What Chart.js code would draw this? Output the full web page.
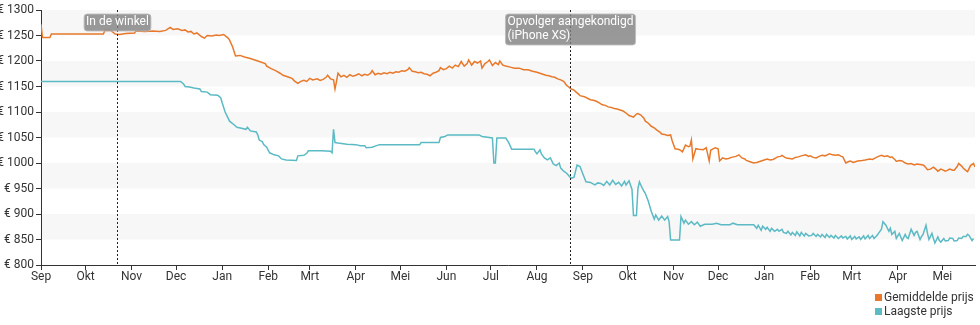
<!DOCTYPE html>
<html>
<head>
<meta charset="utf-8">
<script src="https://cdn.jsdelivr.net/npm/chart.js@4"></script>
<style>
  html, body { margin: 0; padding: 0; background: #fff; }
  #wrap { position: relative; width: 980px; height: 325px; }
  #legend { position: absolute; left: 875px; top: 290px; font: 12px Roboto, sans-serif; color: #333; line-height: 14px; }
  #legend span.sw { display: inline-block; width: 7px; height: 7px; margin-right: 2px; vertical-align: 0px; }
</style>
</head>
<body>
<div id="wrap">
  <canvas id="priceChart" width="980" height="325"></canvas>
  <div id="legend">
    <div><span class="sw" style="background:#e8792b"></span>Gemiddelde prijs</div>
    <div><span class="sw" style="background:#5bbac4"></span>Laagste prijs</div>
  </div>
</div>
<script>
// x = days since 1 September
const monthDays = [0, 30, 61, 91, 122, 153, 181, 212, 242, 273, 303, 334, 365, 395, 426, 456, 487, 518, 546, 577, 607];
const monthLabels = ['Sep', 'Okt', 'Nov', 'Dec', 'Jan', 'Feb', 'Mrt', 'Apr', 'Mei', 'Jun', 'Jul', 'Aug',
                     'Sep', 'Okt', 'Nov', 'Dec', 'Jan', 'Feb', 'Mrt', 'Apr', 'Mei'];

const eventDays = [51, 356];
const eventLabels = [['In de winkel'], ['Opvolger aangekondigd', '(iPhone XS)']];

const avgDays = [
  0, 1, 6, 7, 42, 43, 47, 50, 53, 57,
  63, 64, 70, 75, 80, 84, 87, 89, 92, 95,
  97, 99, 101, 103, 105, 108, 110, 112, 115, 118,
  120, 123, 126, 127, 129, 131, 134, 137, 141, 146,
  151, 152, 155, 158, 161, 163, 165, 167, 169, 170,
  171, 173, 175, 177, 179, 181, 183, 186, 188, 190,
  192, 193, 195, 197, 198, 199, 200, 202, 204, 206,
  208, 210, 212, 214, 216, 218, 220, 222, 223, 225,
  227, 229, 231, 233, 235, 237, 239, 241, 243, 245,
  247, 248, 250, 252, 254, 256, 258, 260, 262, 264,
  266, 268, 269, 271, 273, 275, 277, 279, 281, 283,
  285, 287, 288, 290, 292, 294, 296, 297, 299, 301,
  302, 304, 306, 308, 309, 311, 313, 316, 319, 322,
  325, 328, 331, 334, 336, 338, 340, 342, 344, 346,
  348, 350, 352, 354, 355, 357, 359, 360, 362, 363,
  366, 368, 370, 372, 374, 376, 378, 380, 382, 384,
  386, 388, 390, 392, 394, 396, 397, 399, 401, 402,
  404, 406, 407, 409, 411, 413, 415, 417, 418, 420,
  422, 424, 425, 427, 429, 430, 432, 434, 436, 437,
  438, 439, 441, 443, 446, 448, 450, 451, 454, 456,
  457, 459, 461, 463, 465, 468, 470, 472, 474, 475,
  477, 478, 480, 482, 484, 485, 487, 489, 491, 493,
  495, 496, 498, 499, 501, 502, 504, 506, 508, 510,
  512, 515, 517, 518, 520, 522, 524, 526, 528, 531,
  533, 535, 537, 539, 540, 542, 544, 545, 547, 548,
  550, 553, 555, 558, 560, 562, 564, 566, 568, 570,
  572, 573, 575, 576, 578, 580, 582, 584, 586, 588,
  590, 592, 594, 595, 597, 599, 601, 603, 604, 606,
  607, 609, 610, 612, 614, 615, 617, 618, 620, 621,
  623, 624, 626, 628, 629];
const avgPrices = [
  1272, 1246, 1246, 1253, 1253, 1260, 1260, 1253, 1252, 1254,
  1255, 1259, 1258, 1259, 1258, 1260, 1266, 1262, 1263, 1260,
  1261, 1257, 1258, 1253, 1255, 1248, 1245, 1250, 1249, 1251,
  1250, 1252, 1245, 1241, 1228, 1210, 1211, 1208, 1205, 1200,
  1195, 1190, 1185, 1181, 1176, 1172, 1170, 1168, 1166, 1163,
  1160, 1156, 1160, 1162, 1160, 1166, 1163, 1165, 1162, 1164,
  1168, 1172, 1165, 1163, 1145, 1160, 1176, 1169, 1172, 1168,
  1173, 1170, 1172, 1175, 1171, 1174, 1172, 1176, 1181, 1173,
  1176, 1174, 1177, 1175, 1178, 1176, 1179, 1178, 1181, 1180,
  1183, 1187, 1180, 1179, 1177, 1178, 1175, 1174, 1171, 1176,
  1178, 1181, 1187, 1183, 1185, 1190, 1186, 1192, 1189, 1199,
  1190, 1195, 1202, 1192, 1199, 1196, 1200, 1186, 1195, 1199,
  1202, 1191, 1197, 1193, 1200, 1192, 1190, 1188, 1186, 1186,
  1183, 1183, 1180, 1178, 1176, 1174, 1172, 1171, 1169, 1168,
  1165, 1163, 1160, 1152, 1150, 1145, 1143, 1140, 1135, 1132,
  1130, 1127, 1124, 1123, 1121, 1118, 1114, 1113, 1110, 1109,
  1107, 1106, 1104, 1102, 1098, 1093, 1092, 1090, 1096, 1097,
  1094, 1088, 1082, 1078, 1072, 1069, 1064, 1060, 1057, 1056,
  1054, 1055, 1044, 1028, 1027, 1026, 1022, 1035, 1032, 1033,
  1045, 1008, 1028, 1027, 1026, 1030, 1004, 1025, 1030, 1028,
  1004, 1010, 1008, 1009, 1011, 1013, 1016, 1010, 1008, 1005,
  1003, 1002, 1000, 1001, 1003, 1004, 1006, 1008, 1006, 1007,
  1010, 1012, 1013, 1015, 1011, 1010, 1009, 1008, 1011, 1012,
  1014, 1016, 1013, 1014, 1011, 1010, 1013, 1015, 1014, 1018,
  1016, 1015, 1016, 1013, 1012, 1000, 1003, 1004, 1001, 1002,
  1004, 1005, 1006, 1008, 1007, 1010, 1013, 1015, 1013, 1014,
  1011, 1012, 1007, 1003, 1005, 1004, 1000, 998, 999, 996,
  998, 997, 996, 994, 987, 988, 992, 987, 984, 988,
  987, 984, 985, 988, 986, 986, 993, 999, 994, 990,
  985, 983, 995, 999, 992];

const lowDays = [
  0, 94, 96, 97, 100, 103, 107, 108, 112, 114,
  119, 121, 122, 124, 126, 127, 130, 132, 135, 138,
  139, 141, 145, 146, 147, 149, 150, 152, 153, 154,
  157, 160, 162, 165, 172, 173, 177, 179, 180, 189,
  195, 196, 197, 198, 200, 206, 212, 215, 218, 219,
  223, 226, 228, 255, 256, 268, 269, 272, 274, 295,
  297, 304, 305, 306, 307, 313, 315, 317, 332, 333,
  334, 336, 337, 339, 341, 343, 345, 347, 349, 350,
  352, 354, 357, 359, 361, 363, 365, 367, 370, 373,
  375, 377, 379, 381, 383, 385, 387, 389, 391, 393,
  394, 396, 398, 399, 401, 402, 403, 405, 407, 409,
  411, 413, 414, 416, 418, 420, 422, 423, 424, 430,
  431, 433, 434, 436, 438, 440, 442, 444, 447, 452,
  455, 458, 464, 466, 469, 480, 482, 483, 485, 486,
  488, 489, 491, 492, 494, 496, 497, 499, 500, 502,
  503, 505, 506, 508, 509, 511, 512, 514, 515, 517,
  519, 520, 522, 523, 525, 526, 528, 529, 531, 532,
  534, 535, 537, 539, 540, 542, 543, 545, 546, 548,
  549, 551, 552, 554, 555, 557, 558, 560, 561, 563,
  564, 566, 567, 569, 571, 572, 573, 575, 576, 578,
  579, 580, 582, 583, 584, 586, 588, 589, 590, 592,
  593, 594, 596, 597, 598, 600, 601, 602, 604, 605,
  606, 608, 609, 611, 612, 614, 615, 617, 618, 620,
  621, 623, 624, 625, 627, 628];
const lowPrices = [
  1160, 1160, 1155, 1150, 1149, 1147, 1145, 1140, 1139, 1134,
  1133, 1128, 1118, 1100, 1088, 1082, 1075, 1070, 1068, 1066,
  1070, 1063, 1061, 1055, 1045, 1042, 1036, 1031, 1025, 1020,
  1016, 1014, 1008, 1006, 1005, 1014, 1015, 1019, 1024, 1024,
  1023, 1020, 1066, 1040, 1039, 1037, 1036, 1034, 1034, 1030,
  1031, 1034, 1036, 1036, 1040, 1040, 1050, 1052, 1055, 1055,
  1052, 1049, 1000, 1000, 1049, 1049, 1040, 1027, 1027, 1022,
  1018, 1026, 1018, 1010, 1006, 1010, 998, 995, 1000, 990,
  984, 980, 970, 972, 996, 993, 978, 963, 962, 957,
  961, 960, 956, 964, 957, 966, 958, 962, 955, 964,
  957, 965, 948, 897, 897, 950, 963, 950, 940, 925,
  905, 890, 898, 888, 896, 888, 895, 885, 849, 849,
  895, 882, 888, 880, 885, 879, 884, 876, 880, 880,
  882, 879, 879, 882, 879, 879, 872, 878, 868, 876,
  870, 874, 866, 872, 866, 870, 866, 870, 864, 862,
  866, 859, 864, 858, 865, 857, 864, 857, 862, 857,
  858, 862, 856, 860, 855, 860, 854, 860, 854, 858,
  853, 858, 852, 857, 853, 856, 851, 857, 850, 856,
  851, 855, 850, 857, 851, 858, 852, 858, 852, 858,
  862, 870, 885, 878, 866, 872, 860, 866, 852, 862,
  855, 848, 860, 854, 852, 870, 858, 864, 866, 850,
  856, 860, 878, 862, 850, 862, 852, 843, 855, 848,
  845, 852, 847, 848, 853, 852, 847, 848, 853, 852,
  856, 856, 860, 858, 848, 852];

const toPoints = (days, values) => days.map((d, i) => ({ x: d, y: values[i] }));

// alternating light bands between the y ticks
const bandsPlugin = {
  id: 'bands',
  beforeDraw(chart) {
    const { ctx, chartArea, scales } = chart;
    ctx.save();
    ctx.fillStyle = '#f7f7f7';
    for (let v = 1300; v > 800; v -= 100) {
      const top = scales.y.getPixelForValue(v);
      const bottom = scales.y.getPixelForValue(v - 50);
      ctx.fillRect(chartArea.left, top, chartArea.right - chartArea.left, bottom - top);
    }
    ctx.restore();
  }
};

// dotted event markers with grey labels
const eventsPlugin = {
  id: 'events',
  afterDatasetsDraw(chart) {
    const { ctx, chartArea, scales } = chart;
    ctx.save();
    eventDays.forEach((day, i) => {
      const x = Math.round(scales.x.getPixelForValue(day)) + 0.5;
      ctx.strokeStyle = '#222';
      ctx.lineWidth = 1;
      ctx.setLineDash([2, 2]);
      ctx.beginPath();
      ctx.moveTo(x, chartArea.top);
      ctx.lineTo(x, chartArea.bottom);
      ctx.stroke();
      ctx.setLineDash([]);

      ctx.font = '12px Roboto, sans-serif';
      const lines = eventLabels[i];
      const w = Math.max(...lines.map(t => ctx.measureText(t).width)) + 4;
      const h = lines.length * 14 + 3;
      const left = x - w / 2;
      const top = 14;
      ctx.fillStyle = 'rgba(128,128,128,0.8)';
      ctx.strokeStyle = 'rgba(190,190,190,0.9)';
      ctx.beginPath();
      ctx.roundRect(left, top, w, h, 3);
      ctx.fill();
      ctx.stroke();
      ctx.fillStyle = '#fff';
      ctx.textBaseline = 'middle';
      lines.forEach((t, j) => ctx.fillText(t, left + 2, top + 8 + j * 14));
    });
    ctx.restore();
  }
};

const lineStyle = { borderWidth: 1.5, pointRadius: 0, tension: 0, fill: false };

new Chart(document.getElementById('priceChart'), {
  type: 'line',
  data: {
    datasets: [
      { label: 'Gemiddelde prijs', data: toPoints(avgDays, avgPrices), borderColor: '#e8792b', ...lineStyle },
      { label: 'Laagste prijs', data: toPoints(lowDays, lowPrices), borderColor: '#5bbac4', ...lineStyle }
    ]
  },
  options: {
    responsive: false,
    animation: false,
    layout: { padding: { top: 10, right: 5, left: 0, bottom: 0 } },
    plugins: { legend: { display: false }, tooltip: { enabled: false } },
    scales: {
      x: {
        type: 'linear',
        min: 0,
        max: 629,
        afterBuildTicks(scale) { scale.ticks = monthDays.map(v => ({ value: v })); },
        afterFit(scale) { scale.height = 60; },
        ticks: {
          autoSkip: false,
          maxRotation: 0,
          padding: 0,
          color: '#333',
          font: { family: 'Roboto', size: 12 },
          callback: (value, index) => monthLabels[index]
        },
        grid: { drawOnChartArea: false, drawTicks: true, tickLength: 5, color: '#333' },
        border: { display: true, color: '#333' }
      },
      y: {
        min: 800,
        max: 1300,
        afterFit(scale) { scale.width = 41; },
        ticks: {
          stepSize: 50,
          padding: 2,
          color: '#333',
          font: { family: 'Roboto', size: 12 },
          callback: v => '€ ' + v
        },
        grid: { drawOnChartArea: false, drawTicks: true, tickLength: 5, color: '#333' },
        border: { display: true, color: '#333' }
      }
    }
  },
  plugins: [bandsPlugin, eventsPlugin]
});
</script>
</body>
</html>
